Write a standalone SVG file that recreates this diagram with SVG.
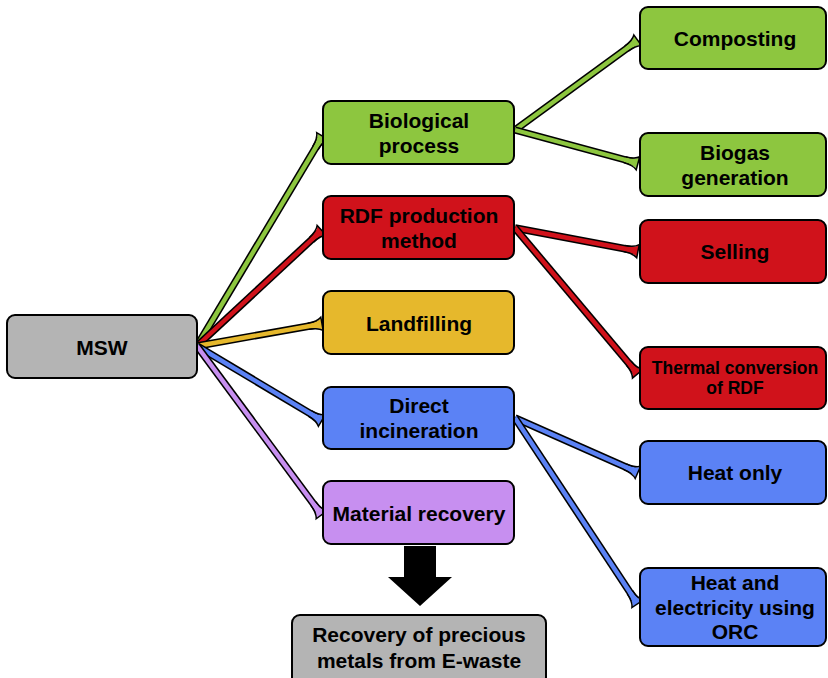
<svg xmlns="http://www.w3.org/2000/svg" width="828" height="678" viewBox="0 0 828 678">
<style>
.box{stroke:#000;stroke-width:2;}
.t{font-family:"Liberation Sans",Arial,sans-serif;font-weight:bold;font-size:21px;fill:#000;text-anchor:middle;dominant-baseline:central;}
.ts{font-size:17.5px;}
.ol{stroke:#000;stroke-width:7.5;fill:none;}
.g{fill:#8dc63f;}.r{fill:#d0121b;}.y{fill:#e6b82c;}.b{fill:#5b82f5;}.p{fill:#c78ff0;}.gr{fill:#b4b4b4;}
.lg{stroke:#8dc63f;stroke-width:4.4;fill:none;}
.lr{stroke:#d0121b;stroke-width:4.4;fill:none;}
.ly{stroke:#e6b82c;stroke-width:4.4;fill:none;}
.lb{stroke:#5b82f5;stroke-width:4.4;fill:none;}
.lp{stroke:#c78ff0;stroke-width:4.4;fill:none;}
.hs{fill:none;stroke:#000;stroke-width:1.5;}
</style>
<defs>
<marker id="mg" markerUnits="userSpaceOnUse" orient="auto" overflow="visible" markerWidth="1" markerHeight="1"><path d="M-13,-2.3 Q-3,-2.4 1,-6 L1,6 Q-3,2.4 -13,2.3 Z" fill="#8dc63f"/><path class="hs" d="M-13,-3.1 Q-3,-3.2 1,-6.7 L1,6.7 Q-3,3.2 -13,3.1"/></marker>
<marker id="mr" markerUnits="userSpaceOnUse" orient="auto" overflow="visible" markerWidth="1" markerHeight="1"><path d="M-13,-2.3 Q-3,-2.4 1,-6 L1,6 Q-3,2.4 -13,2.3 Z" fill="#d0121b"/><path class="hs" d="M-13,-3.1 Q-3,-3.2 1,-6.7 L1,6.7 Q-3,3.2 -13,3.1"/></marker>
<marker id="my" markerUnits="userSpaceOnUse" orient="auto" overflow="visible" markerWidth="1" markerHeight="1"><path d="M-13,-2.3 Q-3,-2.4 1,-6 L1,6 Q-3,2.4 -13,2.3 Z" fill="#e6b82c"/><path class="hs" d="M-13,-3.1 Q-3,-3.2 1,-6.7 L1,6.7 Q-3,3.2 -13,3.1"/></marker>
<marker id="mb" markerUnits="userSpaceOnUse" orient="auto" overflow="visible" markerWidth="1" markerHeight="1"><path d="M-13,-2.3 Q-3,-2.4 1,-6 L1,6 Q-3,2.4 -13,2.3 Z" fill="#5b82f5"/><path class="hs" d="M-13,-3.1 Q-3,-3.2 1,-6.7 L1,6.7 Q-3,3.2 -13,3.1"/></marker>
<marker id="mp" markerUnits="userSpaceOnUse" orient="auto" overflow="visible" markerWidth="1" markerHeight="1"><path d="M-13,-2.3 Q-3,-2.4 1,-6 L1,6 Q-3,2.4 -13,2.3 Z" fill="#c78ff0"/><path class="hs" d="M-13,-3.1 Q-3,-3.2 1,-6.7 L1,6.7 Q-3,3.2 -13,3.1"/></marker>
</defs>

<g id="connectors">
<line class="ol" x1="197" y1="346" x2="322" y2="137"/><line class="lg" x1="197" y1="346" x2="322" y2="137" marker-end="url(#mg)"/>
<line class="ol" x1="197" y1="346" x2="321" y2="231"/><line class="lr" x1="197" y1="346" x2="321" y2="231" marker-end="url(#mr)"/>
<line class="ol" x1="197" y1="346" x2="321" y2="324"/><line class="ly" x1="197" y1="346" x2="321" y2="324" marker-end="url(#my)"/>
<line class="ol" x1="197" y1="346" x2="321" y2="420"/><line class="lb" x1="197" y1="346" x2="321" y2="420" marker-end="url(#mb)"/>
<line class="ol" x1="197" y1="346" x2="321" y2="514"/><line class="lp" x1="197" y1="346" x2="321" y2="514" marker-end="url(#mp)"/>

<line class="ol" x1="515" y1="130" x2="637" y2="41"/><line class="lg" x1="515" y1="130" x2="637" y2="41" marker-end="url(#mg)"/>
<line class="ol" x1="515" y1="130" x2="637" y2="163"/><line class="lg" x1="515" y1="130" x2="637" y2="163" marker-end="url(#mg)"/>
<line class="ol" x1="515" y1="228" x2="637" y2="251"/><line class="lr" x1="515" y1="228" x2="637" y2="251" marker-end="url(#mr)"/>
<line class="ol" x1="515" y1="228" x2="637" y2="373"/><line class="lr" x1="515" y1="228" x2="637" y2="373" marker-end="url(#mr)"/>
<line class="ol" x1="515" y1="418" x2="637" y2="472"/><line class="lb" x1="515" y1="418" x2="637" y2="472" marker-end="url(#mb)"/>
<line class="ol" x1="515" y1="418" x2="637" y2="603"/><line class="lb" x1="515" y1="418" x2="637" y2="603" marker-end="url(#mb)"/>

<polygon points="404,546 436,546 436,577 452,577 420,606 388,577 404,577" fill="#000"/>
</g>

<g id="msw"><rect class="box gr" x="7" y="315" width="190" height="63" rx="8"/><text class="t" x="102" y="347">MSW</text></g>

<g id="biological"><rect class="box g" x="323" y="101" width="191" height="63" rx="8"/><text class="t" x="419" y="120">Biological</text><text class="t" x="419" y="145">process</text></g>
<g id="rdf"><rect class="box r" x="323" y="196" width="191" height="63" rx="8"/><text class="t" x="419" y="215">RDF production</text><text class="t" x="419" y="240">method</text></g>
<g id="landfilling"><rect class="box y" x="323" y="291" width="191" height="63" rx="8"/><text class="t" x="419" y="323">Landfilling</text></g>
<g id="incineration"><rect class="box b" x="323" y="387" width="191" height="62" rx="8"/><text class="t" x="419" y="405">Direct</text><text class="t" x="419" y="430">incineration</text></g>
<g id="material"><rect class="box p" x="323" y="481" width="191" height="63" rx="8"/><text class="t" x="419" y="513">Material recovery</text></g>

<g id="composting"><rect class="box g" x="640" y="7" width="186" height="62" rx="8"/><text class="t" x="735" y="38">Composting</text></g>
<g id="biogas"><rect class="box g" x="640" y="133" width="186" height="63" rx="8"/><text class="t" x="735" y="152">Biogas</text><text class="t" x="735" y="177">generation</text></g>
<g id="selling"><rect class="box r" x="640" y="220" width="186" height="63" rx="8"/><text class="t" x="735" y="251">Selling</text></g>
<g id="thermal"><rect class="box r" x="640" y="347" width="186" height="62" rx="8"/><text class="t ts" x="735" y="368">Thermal conversion</text><text class="t ts" x="735" y="388">of RDF</text></g>
<g id="heatonly"><rect class="box b" x="640" y="441" width="186" height="63" rx="8"/><text class="t" x="735" y="472">Heat only</text></g>
<g id="orc"><rect class="box b" x="640" y="568" width="186" height="78" rx="8"/><text class="t" x="735" y="582">Heat and</text><text class="t" x="735" y="607">electricity using</text><text class="t" x="735" y="631">ORC</text></g>

<g id="recovery"><rect class="box gr" x="292" y="615" width="254" height="70" rx="8"/><text class="t" x="419" y="634">Recovery of precious</text><text class="t" x="419" y="660">metals from E-waste</text></g>
</svg>
